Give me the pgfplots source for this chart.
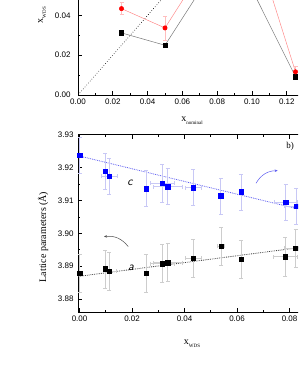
\documentclass[border=0pt]{standalone}
\usepackage{pgfplots}
\pgfplotsset{compat=1.18}
\usepackage{fontspec}
\setmainfont{Liberation Serif}
\newfontfamily\tickfont{Liberation Sans}
\usetikzlibrary{arrows.meta}
\definecolor{pinkline}{RGB}{255,140,140}
\definecolor{pinkerr}{RGB}{255,190,190}
\definecolor{grayline}{RGB}{120,120,120}
\definecolor{grayerr}{RGB}{205,205,205}
\definecolor{blueerr}{RGB}{200,200,245}
\definecolor{bluefit}{RGB}{90,90,240}

\pgfplotstableread{
x y ex ey
0.0000 3.9238 0 0.0055
0.0097 3.9188 0 0.0055
0.0112 3.9174 0.0030 0.0055
0.0253 3.9136 0 0.0055
0.0315 3.9152 0.0045 0.0057
0.0335 3.9142 0.0055 0.0055
0.0434 3.9139 0.0030 0.0055
0.0538 3.9114 0 0.0055
0.0615 3.9126 0 0.0055
0.0785 3.9094 0.0045 0.0055
0.0825 3.9083 0.0045 0.0055
}\cdata
\pgfplotstableread{
x y ex ey
0.0000 3.8879 0 0.0058
0.0097 3.8892 0 0.0058
0.0114 3.8884 0.0025 0.0058
0.0253 3.8879 0 0.0058
0.0315 3.8908 0.0045 0.0058
0.0335 3.8911 0.0055 0.0058
0.0434 3.8924 0.0030 0.0058
0.0539 3.8960 0.0013 0.0058
0.0615 3.8921 0 0.0058
0.0784 3.8929 0.0045 0.0058
0.0823 3.8955 0.0045 0.0058
}\adata
\pgfplotstableread{
x y
0.025 0.0312
0.050 0.0250
0.075 0.0590
0.100 0.0530
0.125 0.0092
}\blacktop
\pgfplotstableread{
x y ey
0.025 0.0434 0.0030
0.050 0.0337 0.0060
0.075 0.0680 0.0030
0.100 0.0810 0.0030
0.125 0.01165 0.0027
}\redtop

\pgfplotsset{
  mystyle/.style={
    scale only axis,
    anchor=south west,
    tick align=inside,
    major tick length=4pt,
    minor tick length=2pt,
    axis line style={line width=0.9pt},
    every tick/.style={line width=0.7pt, black},
    scaled ticks=false,
    tick label style={font=\tickfont\fontsize{8}{9}\selectfont, /pgf/number format/assume math mode=true,
      /pgf/number format/fixed, /pgf/number format/fixed zerofill, /pgf/number format/precision=2},
    minor x tick num=1,
    minor y tick num=1,
  }
}

\begin{document}
\begin{tikzpicture}
\path[use as bounding box] (0,0) rectangle (298pt,385pt);
\clip (0,0) rectangle (298pt,385pt);

% top panel
\begin{axis}[mystyle,
  at={(78pt,290pt)}, width=226.2pt, height=179.1pt,
  xmin=0, xmax=0.13, ymin=0, ymax=0.09,
  xtick={0,0.02,0.04,0.06,0.08,0.10,0.12},
  ytick={0,0.02,0.04},
  extra y ticks={0.06,0.08}, extra y tick labels={},
  yticklabel style={xshift=-4pt},
]
\addplot[black, dotted, line width=0.6pt] coordinates {(0,0) (0.09,0.09)};
\addplot[grayline, line width=0.5pt, mark=square*, mark size=2.2pt, mark options={black, solid}] table[x=x,y=y] {\blacktop};
\addplot[pinkline, line width=0.5pt, mark=*, mark size=2.2pt, mark options={red, solid},
  error bars/.cd, y dir=both, y explicit, error bar style={pinkerr, line width=0.6pt}, error mark options={pinkerr, mark size=2pt, rotate=90}]
  table[x=x,y=y,y error=ey] {\redtop};
\end{axis}

% bottom panel
\begin{axis}[mystyle,
  at={(78pt,72.7pt)}, width=237.8pt, height=177.7pt,
  xmin=-0.0006, xmax=0.09, ymin=3.876, ymax=3.930,
  xtick={0,0.02,0.04,0.06,0.08},
  ytick={3.88,3.89,3.90,3.91,3.92,3.93},
  yticklabel style={xshift=-1pt},
]
\addplot[bluefit, densely dotted, line width=0.8pt] coordinates {(-0.0006,3.9236) (0.09,3.9061)};
\addplot[black!75, densely dotted, line width=0.8pt] coordinates {(-0.0006,3.8869) (0.09,3.8963)};
\addplot[only marks, mark=square*, mark size=2.2pt, mark options={blue},
  error bars/.cd, x dir=both, x explicit, y dir=both, y explicit,
  error bar style={blueerr, line width=0.6pt}, error mark options={blueerr, mark size=2pt, rotate=90}]
  table[x=x,y=y,x error=ex,y error=ey] {\cdata};
\addplot[only marks, mark=square*, mark size=2.2pt, mark options={black},
  error bars/.cd, x dir=both, x explicit, y dir=both, y explicit,
  error bar style={grayerr, line width=0.6pt}, error mark options={grayerr, mark size=2pt, rotate=90}]
  table[x=x,y=y,x error=ex,y error=ey] {\adata};
\end{axis}

% labels
\node[font=\fontsize{10}{10}\selectfont] at (192pt,264pt) {x\raisebox{-3pt}{\fontsize{5}{5}\selectfont nominal}};
\node[font=\fontsize{10}{10}\selectfont] at (192pt,41pt) {x\raisebox{-3pt}{\fontsize{5}{5}\selectfont WDS}};
\node[rotate=90, font=\fontsize{10}{10}\selectfont] at (42pt,370pt) {x\raisebox{-3pt}{\fontsize{5}{5}\selectfont WDS}};
\node[rotate=90, font=\fontsize{10}{10}\selectfont] at (43pt,148pt) {Lattice parameters (Å)};
\node[font=\fontsize{9}{9}\selectfont] at (290pt,239pt) {b)};
\node[font=\sffamily\itshape\fontsize{12}{12}\selectfont] at (130pt,202.5pt) {c};
\node[font=\sffamily\itshape\fontsize{12}{12}\selectfont] at (131pt,117pt) {a};
\draw[bluefit, line width=0.5pt, -{Stealth[length=3pt,width=2.5pt]}] (256pt,201.7pt) to[bend left=30] (277.7pt,214.3pt);
\draw[black!70, line width=0.5pt, -{Stealth[length=3pt,width=2.5pt]}] (128.3pt,138.3pt) to[bend right=30] (104pt,148.3pt);
\end{tikzpicture}
\end{document}
